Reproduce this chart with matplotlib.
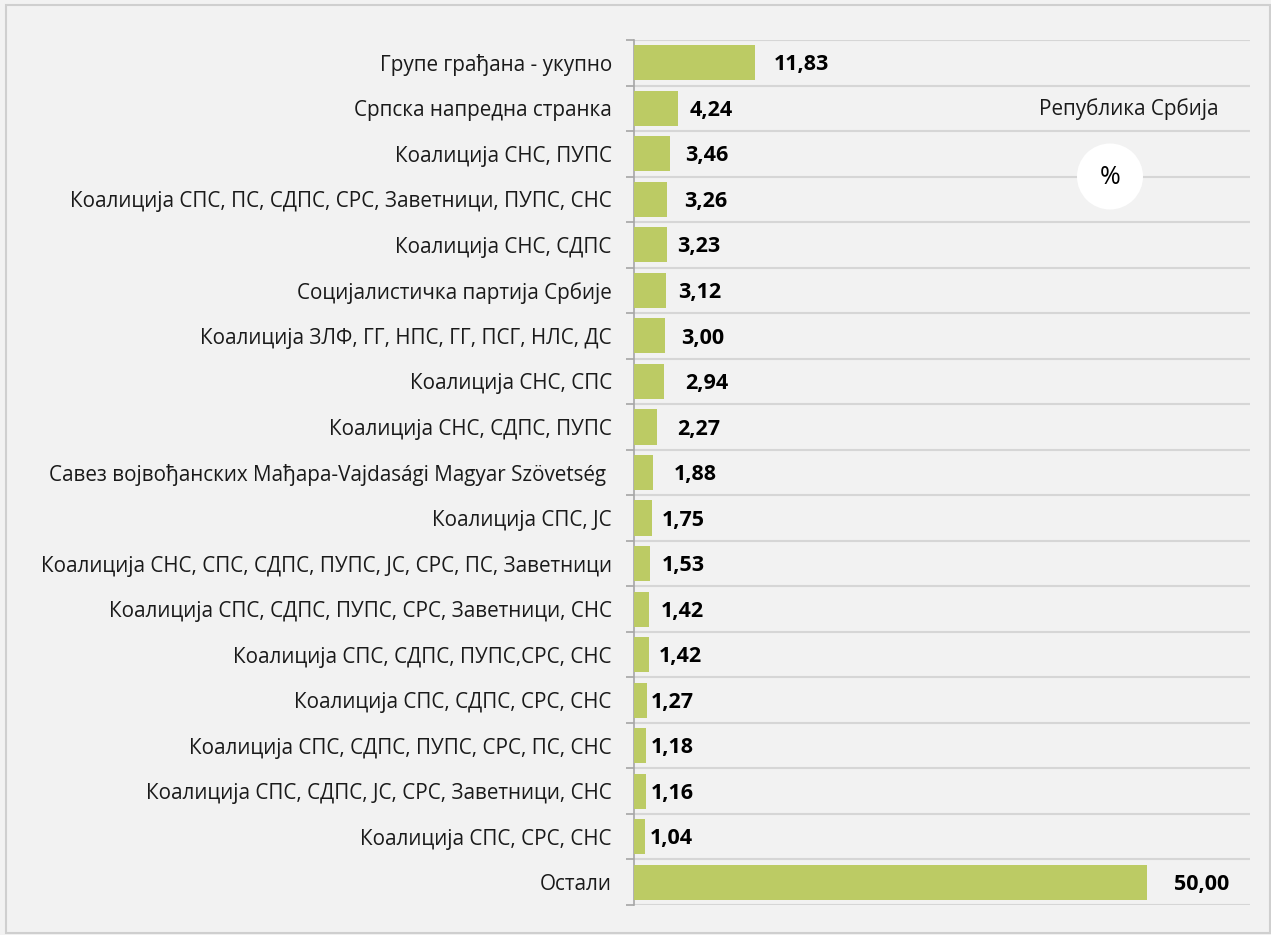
import matplotlib.pyplot as plt
from matplotlib.patches import Circle, Rectangle

# share of votes, Republic of Serbia (%)
parties = [
    "Групе грађана - укупно",
    "Српска напредна странка",
    "Коалиција СНС, ПУПС",
    "Коалиција СПС, ПС, СДПС, СРС, Заветници, ПУПС, СНС",
    "Коалиција СНС, СДПС",
    "Социјалистичка партија Србије",
    "Коалиција ЗЛФ, ГГ, НПС, ГГ, ПСГ, НЛС, ДС",
    "Коалиција СНС, СПС",
    "Коалиција СНС, СДПС, ПУПС",
    "Савез војвођанских Мађара-Vajdasági Magyar Szövetség ",
    "Коалиција СПС, ЈС",
    "Коалиција СНС, СПС, СДПС, ПУПС, ЈС, СРС, ПС, Заветници",
    "Коалиција СПС, СДПС, ПУПС, СРС, Заветници, СНС",
    "Коалиција СПС, СДПС, ПУПС,СРС, СНС",
    "Коалиција СПС, СДПС, СРС, СНС",
    "Коалиција СПС, СДПС, ПУПС, СРС, ПС, СНС",
    "Коалиција СПС, СДПС, ЈС, СРС, Заветници, СНС",
    "Коалиција СПС, СРС, СНС",
    "Остали",
]
shares = [11.83, 4.24, 3.46, 3.26, 3.23, 3.12, 3.00, 2.94, 2.27, 1.88,
          1.75, 1.53, 1.42, 1.42, 1.27, 1.18, 1.16, 1.04, 50.00]

# gap between bar end and its label, in points (labels were placed by hand)
label_gap_pt = [13, 9, 11, 12, 7, 9, 12, 15, 14, 15,
                7, 9, 9, 7, 3, 3.5, 3.5, 4, 19]

BG = "#f2f2f2"
BAR = "#bccb64"
GRID = "#d6d6d6"

plt.rcParams["font.family"] = ["Open Sans", "DejaVu Sans"]

fig = plt.figure(figsize=(12.71, 9.35), dpi=100, facecolor=BG)
ax = fig.add_axes([634 / 1271, 1 - 905 / 935, (1250 - 634) / 1271, (905 - 40) / 935])
ax.set_facecolor(BG)

pos = list(range(len(parties)))
ax.barh(pos, shares, height=0.77, color=BAR, zorder=3)

for y, v, gap in zip(pos, shares, label_gap_pt):
    ax.annotate(f"{v:.2f}".replace(".", ","), (v, y), xytext=(gap, -1.5),
                textcoords="offset points", ha="left", va="center",
                fontsize=15.5, fontweight="bold", color="black", zorder=4)

ax.set_xlim(0, 60)
ax.set_ylim(len(parties) - 0.5, -0.5)
ax.set_xticks([])
ax.set_yticks(pos)
ax.set_yticklabels(parties, fontsize=14.9, color="#1a1a1a")
ax.tick_params(axis="y", which="major", length=0, pad=16)
ax.set_yticks([p - 0.5 for p in pos] + [len(parties) - 0.5], minor=True)
ax.tick_params(axis="y", which="minor", length=6, width=1.2, color="#a6a6a6")
ax.grid(axis="y", which="minor", color=GRID, linewidth=1.5, zorder=1)

for s in ("top", "right", "bottom"):
    ax.spines[s].set_visible(False)
ax.spines["left"].set_color("#a6a6a6")
ax.spines["left"].set_linewidth(1.2)

fig.text(1129 / 1271, 1 - 109 / 935, "Република Србија", ha="center", va="center",
         fontsize=14.9, color="#1a1a1a")
circ = Circle((11.10, 9.35 - 1.765), 0.33, transform=fig.dpi_scale_trans,
              facecolor="white", edgecolor="none", zorder=5)
fig.patches.append(circ)
fig.text(1110 / 1271, 1 - 178 / 935, "%", ha="center", va="center",
         fontsize=18, color="black", zorder=6)

# outer frame
fig.patches.append(Rectangle((6 / 1271, 2 / 935), 1264 / 1271, 1 - 7 / 935,
                             transform=fig.transFigure, fill=False,
                             edgecolor="#cfcfcf", linewidth=1.5, zorder=7))

fig.savefig("out.png", dpi=100, facecolor=BG)
